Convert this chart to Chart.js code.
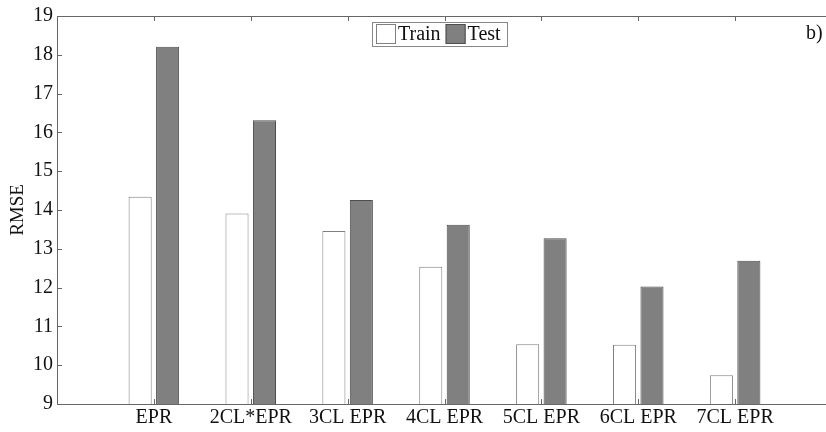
<!DOCTYPE html>
<html>
<head>
<meta charset="utf-8">
<script src="https://cdn.jsdelivr.net/npm/chart.js@4.4.1/dist/chart.umd.min.js"></script>
<style>
  html, body { margin: 0; padding: 0; background: #fff; overflow: hidden; }
  #wrap { width: 834px; height: 432px; }
</style>
</head>
<body>
<div id="wrap"><canvas id="chart" width="834" height="432"></canvas></div>
<script>
// ---- data ----
const categories = ["", "EPR", "2CL*EPR", "3CL EPR", "4CL EPR", "5CL EPR", "6CL EPR", "7CL EPR", ""];
const trainRmse = [null, 14.34, 13.91, 13.46, 12.54, 10.54, 10.53, 9.74, null];
const testRmse  = [null, 18.21, 16.31, 14.26, 13.62, 13.27, 12.03, 12.69, null];
const yTicks = [9, 10, 11, 12, 13, 14, 15, 16, 17, 18, 19];

const FONT = "'Liberation Serif', 'DejaVu Serif', serif";

// frame, inward ticks, legend, panel tag
const framePlugin = {
    id: "frame",
    afterDraw(chart) {
        const ctx = chart.ctx;
        const a = chart.chartArea;
        const xs = chart.scales.x;
        const ys = chart.scales.y;

        ctx.save();
        ctx.strokeStyle = "#666";
        ctx.lineWidth = 1;

        ctx.beginPath();
        ctx.moveTo(a.left, a.top + 0.5);
        ctx.lineTo(a.right, a.top + 0.5);
        ctx.moveTo(a.right - 0.5, a.top);
        ctx.lineTo(a.right - 0.5, a.bottom);
        ctx.stroke();

        // y ticks, both sides
        ctx.beginPath();
        yTicks.forEach(v => {
            const y = Math.round(ys.getPixelForValue(v)) + 0.5;
            ctx.moveTo(a.left, y);
            ctx.lineTo(a.left + 5, y);
            ctx.moveTo(a.right, y);
            ctx.lineTo(a.right - 5, y);
        });
        // x ticks, top and bottom
        for (let i = 1; i < categories.length - 1; i++) {
            const x = Math.round(xs.getPixelForValue(i)) + 0.5;
            ctx.moveTo(x, a.bottom);
            ctx.lineTo(x, a.bottom - 5);
            ctx.moveTo(x, a.top);
            ctx.lineTo(x, a.top + 5);
        }
        ctx.stroke();

        // legend
        const lx = 372, ly = 22, lw = 135, lh = 24;
        ctx.fillStyle = "#fff";
        ctx.fillRect(lx, ly, lw, lh);
        ctx.strokeStyle = "#888";
        ctx.strokeRect(lx + 0.5, ly + 0.5, lw, lh);

        ctx.font = "20px " + FONT;
        ctx.textAlign = "left";
        ctx.textBaseline = "middle";
        let cx = lx + 4;
        chart.data.datasets.forEach(ds => {
            ctx.fillStyle = ds.backgroundColor;
            ctx.strokeStyle = ds.borderColor;
            ctx.fillRect(cx, ly + 2, 20, 20);
            ctx.strokeRect(cx + 0.5, ly + 2.5, 19, 19);
            ctx.fillStyle = "#111";
            ctx.fillText(ds.label, cx + 22, ly + lh / 2 + 1);
            cx += 22 + ctx.measureText(ds.label).width + 5;
        });

        // panel tag
        ctx.fillStyle = "#111";
        ctx.font = "20px " + FONT;
        ctx.fillText("b)", 806, 34);

        ctx.restore();
    }
};

new Chart(document.getElementById("chart"), {
    type: "bar",
    data: {
        labels: categories,
        datasets: [
            {
                label: "Train",
                data: trainRmse,
                backgroundColor: "#ffffff",
                borderColor: "#808080",
                borderWidth: 1,
                categoryPercentage: 0.567,
                barPercentage: 0.84
            },
            {
                label: "Test",
                data: testRmse,
                backgroundColor: "#808080",
                borderColor: "#4d4d4d",
                borderWidth: 1,
                categoryPercentage: 0.567,
                barPercentage: 0.84
            }
        ]
    },
    options: {
        responsive: false,
        animation: false,
        layout: { padding: { top: 14, right: 0, bottom: 0, left: 0 } },
        plugins: {
            tooltip: { enabled: false },
            legend: { display: false }
        },
        scales: {
            x: {
                type: "category",
                offset: false,
                grid: { display: false, offset: false, drawTicks: false },
                border: { display: true, color: "#666", width: 1 },
                ticks: {
                    color: "#111",
                    font: { family: FONT, size: 20 },
                    padding: 2,
                    maxRotation: 0,
                    autoSkip: false
                },
                afterFit(scale) { scale.height = 28; }
            },
            y: {
                min: 9,
                max: 19,
                grid: { display: false, drawTicks: false },
                border: { display: true, color: "#666", width: 1 },
                ticks: {
                    stepSize: 1,
                    color: "#111",
                    font: { family: FONT, size: 20 },
                    padding: 4
                },
                title: {
                    display: true,
                    text: "RMSE",
                    color: "#111",
                    font: { family: FONT, size: 19 },
                    padding: { top: 7, bottom: 0 }
                },
                afterFit(scale) { scale.width = 57; }
            }
        }
    },
    plugins: [framePlugin]
});
</script>
</body>
</html>
